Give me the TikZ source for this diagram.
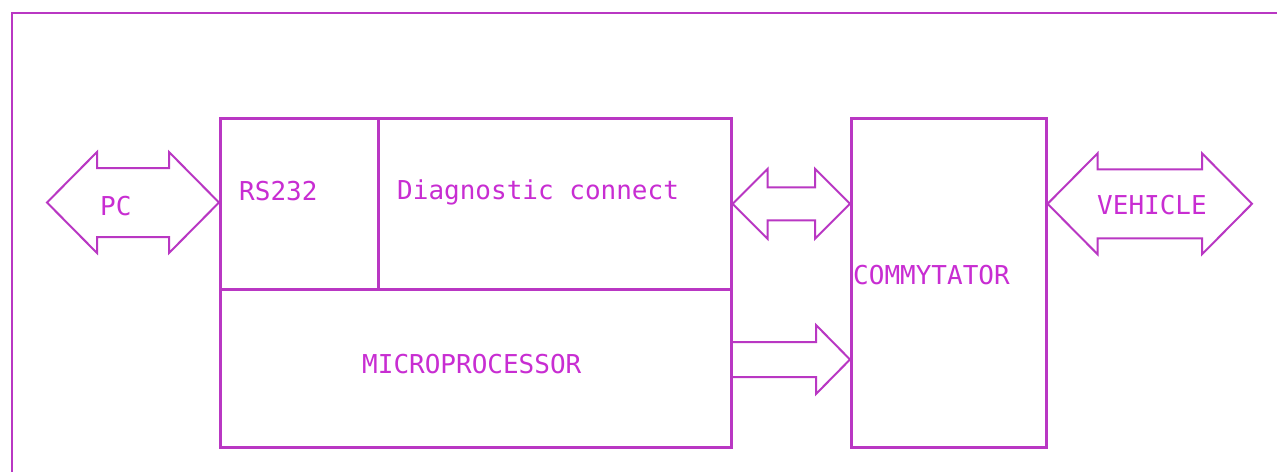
\documentclass[tikz,border=0pt]{standalone}
\usepackage{fontspec}
\setmonofont{DejaVu Sans Mono}
\usetikzlibrary{calc}
\definecolor{linecol}{RGB}{185,55,195}
\definecolor{textcol}{RGB}{200,45,210}
\newcommand\dblarrow[5]{%
  \draw[arrowline] let \p1=(#1), \p2=(#2) in
    (\x1,\y1) -- (\x1+#5,\y1+#4) -- (\x1+#5,\y1+#3) -- (\x2-#5,\y1+#3) --
    (\x2-#5,\y1+#4) -- (\x2,\y1) -- (\x2-#5,\y1-#4) -- (\x2-#5,\y1-#3) --
    (\x1+#5,\y1-#3) -- (\x1+#5,\y1-#4) -- cycle;}
\newcommand\sglarrow[5]{%
  \draw[arrowline] let \p1=(#1), \p2=(#2) in
    (\x1,\y1+#3) -- (\x2-#5,\y1+#3) -- (\x2-#5,\y1+#4) -- (\x2,\y1) --
    (\x2-#5,\y1-#4) -- (\x2-#5,\y1-#3) -- (\x1,\y1-#3);}
\begin{document}
\begin{tikzpicture}[x=1pt,y=-1pt,
  box/.style={draw=linecol,line width=2.6pt,inner sep=0pt,anchor=north west},
  frameline/.style={draw=linecol,line width=2.6pt},
  arrowline/.style={draw=linecol,line width=2pt,line join=miter},
  lbl/.style={text=textcol,inner sep=0pt,anchor=base west,font=\ttfamily\fontsize{26}{30}\selectfont}]
\useasboundingbox[fill=white] (0,0) rectangle (1277,472);
% frame
\draw[frameline] (1277,13) -- (12,13) -- (12,472);
% boxes
\node[box,minimum width=158pt,minimum height=171pt] (rs) at (219,117) {};
\node[box,minimum width=353pt,minimum height=171pt] (diag) at (377,117) {};
\node[box,minimum width=511pt,minimum height=158pt] (micro) at (219,288) {};
\node[box,minimum width=195pt,minimum height=329pt] (comm) at (850,117) {};
% labels
\node[lbl] (tpc) at (100,215) {PC};
\node[lbl] (trs) at (239,200) {RS232};
\node[lbl] (tdiag) at (397,199) {Diagnostic connect};
\node[lbl] (tmicro) at (362,373) {MICROPROCESSOR};
\node[lbl] (tcomm) at (853,284) {COMMYTATOR};
\node[lbl] (tveh) at (1097,214) {VEHICLE};
% arrow end points
\coordinate (pc) at (47,202.5);
\coordinate (veh) at (1252,202.5);
\coordinate (m1) at (730,359.5);
% arrows
\dblarrow{pc}{rs.west}{34.5}{50.5}{50}
\dblarrow{diag.east}{diag.east -| comm.west}{16.5}{35}{35}
\dblarrow{diag.east -| comm.east}{veh}{34.5}{50.5}{50}
\sglarrow{m1}{m1 -| comm.west}{17.5}{34.5}{34}
\end{tikzpicture}
\end{document}
